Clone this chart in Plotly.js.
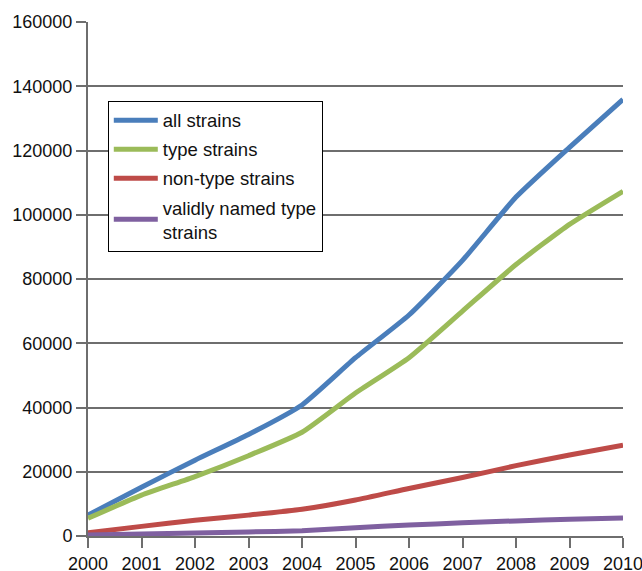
<!DOCTYPE html>
<html>
<head>
<meta charset="utf-8">
<script src="https://cdn.plot.ly/plotly-3.0.1.min.js"></script>
<style>
  html, body { margin: 0; padding: 0; background: #ffffff; }
  #chart { width: 642px; height: 571px; }
</style>
</head>
<body>
<div id="chart"></div>
<script>
// Years on the x axis
const years = [2000, 2001, 2002, 2003, 2004, 2005, 2006, 2007, 2008, 2009, 2010];

// Cumulative strain counts per year
const allStrains        = [6500, 15200, 23600, 31600, 40800, 55500, 68800, 85800, 105500, 121000, 135900];
const typeStrains       = [5500, 12700, 18500, 25000, 32300, 44500, 55500, 70000, 84500, 97000, 107300];
const nonTypeStrains    = [1000, 3000, 4900, 6500, 8300, 11200, 14800, 18200, 21900, 25200, 28300];
const validlyNamedType  = [300, 650, 950, 1250, 1650, 2600, 3400, 4100, 4700, 5200, 5600];

const seriesNames = ["all strains", "type strains", "non-type strains", "validly named type<br>strains"];
const seriesColors = ["#4A7EBB", "#9BBB59", "#BE4B48", "#7F60A0"];
const seriesValues = [allStrains, typeStrains, nonTypeStrains, validlyNamedType];

const yTicks = [0, 20000, 40000, 60000, 80000, 100000, 120000, 140000, 160000];

const traces = seriesValues.map((vals, i) => ({
  type: "scatter",
  mode: "lines",
  x: years,
  y: vals,
  name: seriesNames[i],
  legendgroup: "g" + i,
  line: { color: seriesColors[i], width: 5, shape: "spline", smoothing: 0.5 },
  hoverinfo: "x+y+name"
}));

const layout = {
  width: 642,
  height: 571,
  margin: { l: 88, r: 19, t: 21.5, b: 35, pad: 0 },
  paper_bgcolor: "#ffffff",
  plot_bgcolor: "#ffffff",
  font: { family: "Liberation Sans, Arial, sans-serif", size: 18, color: "#111111" },
  showlegend: true,
  legend: {
    x: 0.037, y: 0.847, xanchor: "left", yanchor: "top",
    bordercolor: "#000000", borderwidth: 1, bgcolor: "#ffffff",
    font: { size: 18.5, color: "#111111" },
    itemwidth: 44,
    tracegroupgap: 2
  },
  xaxis: {
    range: [2000, 2010],
    tickvals: years,
    ticktext: years.map(String),
    ticks: "outside", ticklen: 10, tickwidth: 2, tickcolor: "#6e6e6e",
    ticklabeloverflow: "allow",
    showgrid: false, zeroline: false,
    showline: true, linecolor: "#6e6e6e", linewidth: 2,
    tickfont: { size: 18 }
  },
  yaxis: {
    range: [0, 160000],
    tickvals: yTicks,
    ticktext: yTicks.map(String),
    ticks: "outside", ticklen: 10, tickwidth: 2, tickcolor: "#6e6e6e",
    showgrid: true, gridcolor: "#6e6e6e", gridwidth: 2,
    zeroline: false,
    showline: true, linecolor: "#6e6e6e", linewidth: 2,
    tickfont: { size: 18 }
  }
};

Plotly.newPlot("chart", traces, layout, { displayModeBar: false, staticPlot: true });
</script>
</body>
</html>
